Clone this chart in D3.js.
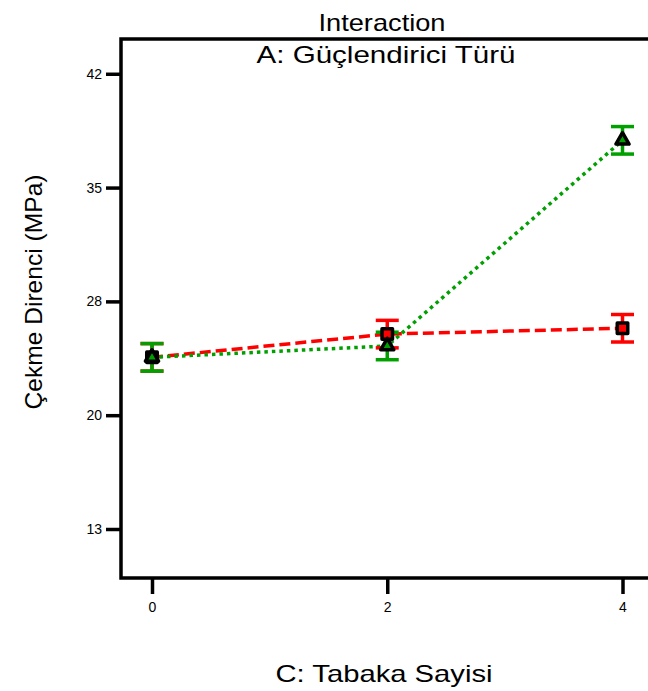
<!DOCTYPE html>
<html>
<head>
<meta charset="utf-8">
<script src="https://cdn.jsdelivr.net/npm/d3@7"></script>
<style>
  body { margin: 0; background: #fff; }
  text { font-family: "Liberation Sans", Arial, sans-serif; fill: #000; }
</style>
</head>
<body>
<div id="chart"></div>
<script>
// data
const levels = [0, 2, 4];                 // C: Tabaka Sayisi
const redMeans = [24.06, 25.53, 25.9];    // squares, dashed
const greenMeans = [24.06, 24.78, 37.79]; // triangles, dotted
const errHalf = 0.87;                     // half width of the bars
const yTicks = [13.2, 20.4, 27.6, 34.8, 42.0];
const xTicks = [0, 2, 4];

const W = 648, H = 691;
const plotLeft = 121, plotTop = 39, plotBottom = 578, plotRight = 660;

const svg = d3.select("#chart").append("svg")
    .attr("width", W)
    .attr("height", H);

const x = d3.scaleLinear().domain([0, 4]).range([152, 622.5]);
const y = d3.scaleLinear().domain([10.1, 44.2]).range([plotBottom, plotTop]);

// frame
svg.append("path")
    .attr("d", `M${plotRight},${plotTop}H${plotLeft}V${plotBottom}H${plotRight}`)
    .attr("fill", "none")
    .attr("stroke", "#000")
    .attr("stroke-width", 3.5);

// axes
const yAxis = svg.append("g")
    .attr("transform", `translate(${plotLeft},0)`)
    .call(d3.axisLeft(y).tickValues(yTicks).tickFormat(d3.format(".0f")).tickSize(15).tickPadding(4));
const xAxis = svg.append("g")
    .attr("transform", `translate(0,${plotBottom})`)
    .call(d3.axisBottom(x).tickValues(xTicks).tickFormat(d3.format("d")).tickSize(16).tickPadding(8));
[yAxis, xAxis].forEach(g => {
    g.select(".domain").remove();
    g.selectAll("line").attr("stroke-width", 3.5);
    g.selectAll("text").style("font-size", "14px").style("font-family", "Liberation Sans, Arial, sans-serif");
});

// titles
svg.append("text").attr("x", 382).attr("y", 31).attr("text-anchor", "middle")
    .style("font-size", "24px").attr("textLength", 127).attr("lengthAdjust", "spacingAndGlyphs")
    .text("Interaction");
svg.append("text").attr("x", 386).attr("y", 63).attr("text-anchor", "middle")
    .style("font-size", "24px").attr("textLength", 259).attr("lengthAdjust", "spacingAndGlyphs")
    .text("A: Güçlendirici Türü");
svg.append("text").attr("x", 384).attr("y", 682).attr("text-anchor", "middle")
    .style("font-size", "24px").attr("textLength", 217).attr("lengthAdjust", "spacingAndGlyphs")
    .text("C: Tabaka Sayisi");
svg.append("text")
    .attr("transform", "translate(42,292) rotate(-90)")
    .attr("text-anchor", "middle")
    .style("font-size", "24px").attr("textLength", 235).attr("lengthAdjust", "spacingAndGlyphs")
    .text("Çekme Direnci (MPa)");

const series = [
    { name: "red", color: "#ff0000", means: redMeans, dash: "11,5", shape: "square" },
    { name: "green", color: "#00a000", means: greenMeans, dash: "3.5,4", shape: "triangle" }
];

const line = d3.line().x((d, i) => x(levels[i])).y(d => y(d));

// lines
series.forEach(s => {
    svg.append("path")
        .datum(s.means)
        .attr("d", line)
        .attr("fill", "none")
        .attr("stroke", s.color)
        .attr("stroke-width", 3.5)
        .attr("stroke-dasharray", s.dash);
});

// error bars
series.forEach(s => {
    const g = svg.append("g").attr("stroke", s.color).attr("stroke-width", 3.5);
    s.means.forEach((m, i) => {
        const cx = x(levels[i]);
        g.append("line").attr("x1", cx).attr("x2", cx).attr("y1", y(m - errHalf)).attr("y2", y(m + errHalf));
        g.append("line").attr("x1", cx - 11.5).attr("x2", cx + 11.5).attr("y1", y(m + errHalf)).attr("y2", y(m + errHalf));
        g.append("line").attr("x1", cx - 11.5).attr("x2", cx + 11.5).attr("y1", y(m - errHalf)).attr("y2", y(m - errHalf));
    });
});

// markers
series.forEach(s => {
    const sym = d3.symbol()
        .type(s.shape === "square" ? d3.symbolSquare : d3.symbolTriangle)
        .size(s.shape === "square" ? 110 : 75);
    svg.append("g").selectAll("path")
        .data(s.means)
        .join("path")
        .attr("transform", (d, i) => `translate(${x(levels[i])},${y(d)})`)
        .attr("d", sym)
        .attr("fill", s.color)
        .attr("stroke", "#000")
        .attr("stroke-width", 3.5)
        .attr("stroke-linejoin", "round");
});
</script>
</body>
</html>
